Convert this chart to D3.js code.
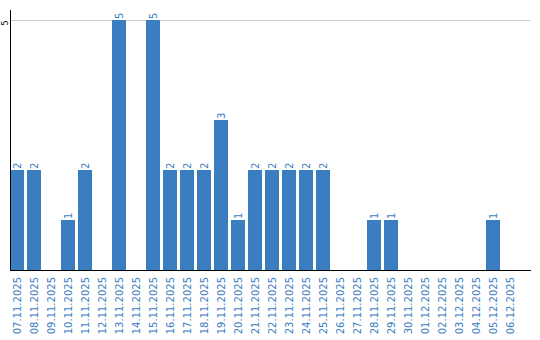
<!DOCTYPE html>
<html>
<head>
<meta charset="utf-8">
<script src="https://cdn.jsdelivr.net/npm/d3@7"></script>
<style>
  body { margin: 0; background: #fff; }
  svg { display: block; font-family: "DejaVu Sans", Verdana, sans-serif; }
</style>
</head>
<body>
<div id="chart"></div>
<script>
const dates = ["07.11.2025","08.11.2025","09.11.2025","10.11.2025","11.11.2025","12.11.2025",
  "13.11.2025","14.11.2025","15.11.2025","16.11.2025","17.11.2025","18.11.2025","19.11.2025",
  "20.11.2025","21.11.2025","22.11.2025","23.11.2025","24.11.2025","25.11.2025","26.11.2025",
  "27.11.2025","28.11.2025","29.11.2025","30.11.2025","01.12.2025","02.12.2025","03.12.2025",
  "04.12.2025","05.12.2025","06.12.2025"]
const counts = [2,2,0,1,2,0,5,0,5,2,2,2,3,1,2,2,2,2,2,0,0,1,1,0,0,0,0,0,1,0]
const yTicks = [5]

const svgWidth = 540
const svgHeight = 340
const barColor = "#3b7dc1"

let svg = d3.select("#chart").append("svg")
  .attr("width", svgWidth)
  .attr("height", svgHeight)

var x = d3.scaleBand()
  .domain(dates)
  .range([10, 517])
  .paddingInner(3/17)
  .paddingOuter(0)

var y = d3.scaleLinear()
  .domain([0, 5])
  .range([270, 20])

// gridline
svg.selectAll("line.grid")
  .data(yTicks)
  .enter().append("line")
  .attr("class", "grid")
  .attr("x1", 10).attr("x2", 530)
  .attr("y1", d => y(d) + 0.5).attr("y2", d => y(d) + 0.5)
  .attr("stroke", "#cccccc")

// bars
svg.selectAll("rect")
  .data(dates)
  .enter().append("rect")
  .attr("x", d => x(d))
  .attr("y", (d, i) => y(counts[i]))
  .attr("width", x.bandwidth())
  .attr("height", (d, i) => y(0) - y(counts[i]))
  .attr("fill", barColor)

// value labels
svg.selectAll("text.val")
  .data(dates.filter((d, i) => counts[i] > 0))
  .enter().append("text")
  .attr("class", "val")
  .attr("transform", d => {
    let v = counts[dates.indexOf(d)]
    return "translate(" + (x(d) + x.bandwidth() / 2) + "," + (y(v) - 1) + ") rotate(-90)"
  })
  .attr("dy", "0.35em")
  .attr("font-size", "10px")
  .attr("fill", barColor)
  .text(d => counts[dates.indexOf(d)])

// y axis
svg.append("line")
  .attr("x1", 10.5).attr("x2", 10.5)
  .attr("y1", 10).attr("y2", 270)
  .attr("stroke", "#000")
svg.selectAll("text.ytick")
  .data(yTicks)
  .enter().append("text")
  .attr("class", "ytick")
  .attr("transform", d => "translate(5," + (y(d) + 3) + ") rotate(-90)")
  .attr("text-anchor", "middle")
  .attr("dy", "0.35em")
  .attr("font-size", "8px")
  .attr("fill", "#000")
  .text(d => d)

// x axis
svg.append("line")
  .attr("x1", 10).attr("x2", 531)
  .attr("y1", 270.5).attr("y2", 270.5)
  .attr("stroke", "#000")
svg.selectAll("text.xlab")
  .data(dates)
  .enter().append("text")
  .attr("class", "xlab")
  .attr("transform", d => "translate(" + (x(d) + x.bandwidth() / 2) + ",277) rotate(-90)")
  .attr("text-anchor", "end")
  .attr("dy", "0.35em")
  .attr("font-size", "10px")
  .attr("fill", barColor)
  .text(d => d)
</script>
</body>
</html>
